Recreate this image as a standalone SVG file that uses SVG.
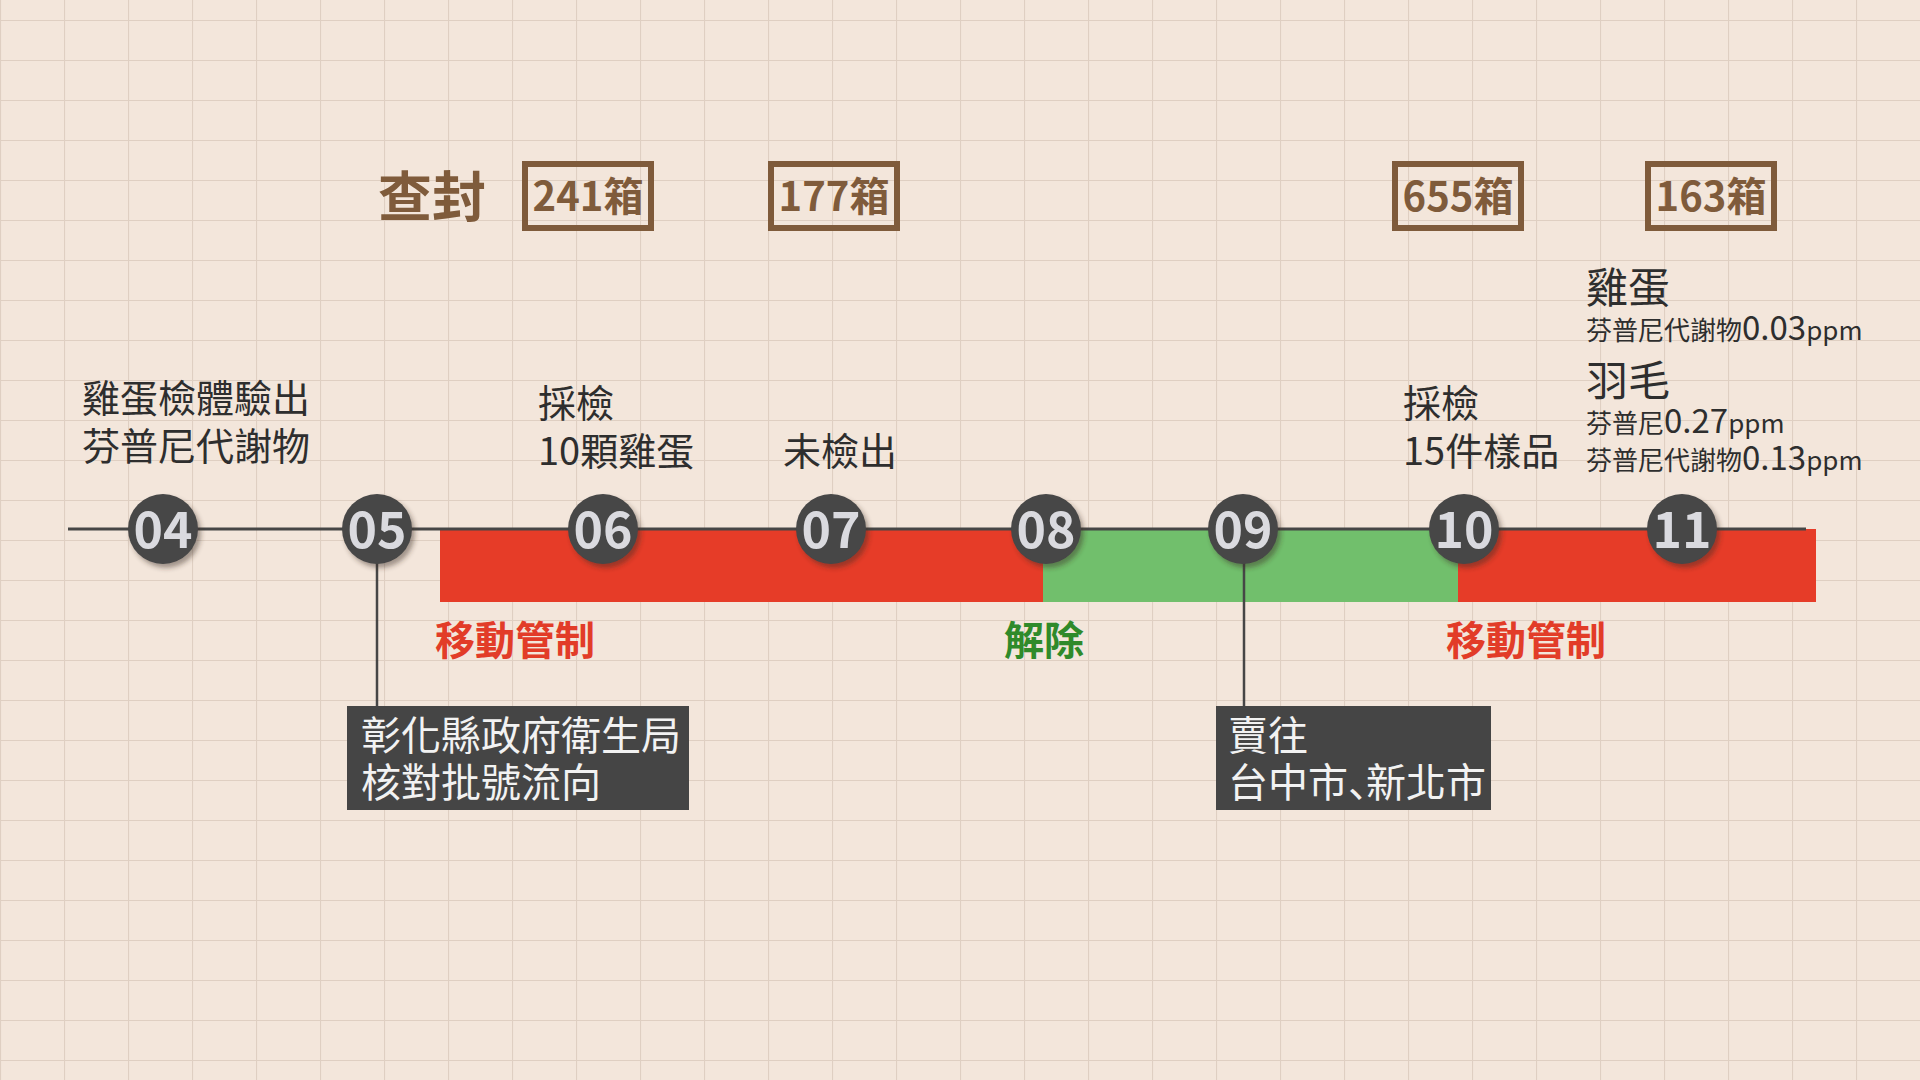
<svg xmlns="http://www.w3.org/2000/svg" width="1920" height="1080" viewBox="0 0 1920 1080">
<defs>
<pattern id="grid" width="64" height="40" x="0" y="20" patternUnits="userSpaceOnUse">
<path d="M0 0.5H64M0.5 0V40" stroke="#dfcfc2" stroke-width="1.2" fill="none"/>
</pattern>
<filter id="shadow" x="-30%" y="-30%" width="170%" height="170%">
<feDropShadow dx="3" dy="4" stdDeviation="2.5" flood-color="#3a2a20" flood-opacity="0.45"/>
</filter>
</defs>
<style>
text{font-family:"Noto Sans CJK TC","Noto Sans CJK SC",sans-serif}
.num{font-size:50px;font-weight:700;fill:#dadadf;text-anchor:middle}
.dot{fill:#464646;filter:url(#shadow)}
.lbl{font-size:38px;fill:#2e2e2e}
.box{fill:none;stroke:#7f5b3b;stroke-width:6}
.boxt{font-size:40px;font-weight:700;fill:#7f5b3b;text-anchor:middle}
.note{fill:#454545}
.notet{font-size:40px;fill:#f2f2f2}
.red{font-size:40px;font-weight:700;fill:#e23c28}
.grn{font-size:40px;font-weight:700;fill:#2f8a2a}
.s{font-size:26px}
.b{font-size:33px}
.h{font-size:42px}
.jp{font-family:"Noto Sans CJK JP",sans-serif}
</style>
<rect width="1920" height="1080" fill="#f3e6db"/>
<rect width="1920" height="1080" fill="url(#grid)"/>

<g id="bands">
<rect x="440" y="529" width="603" height="73" fill="#e63c28"/>
<rect x="1043" y="529" width="415" height="73" fill="#71bf6c"/>
<rect x="1458" y="529" width="358" height="73" fill="#e63c28"/>
</g>

<g id="connectors" stroke="#464646" fill="none">
<line x1="68" y1="529" x2="1806" y2="529" stroke-width="3"/>
<line x1="377" y1="540" x2="377" y2="706" stroke-width="2.5"/>
<line x1="1244" y1="540" x2="1244" y2="706" stroke-width="2.5"/>
</g>

<g id="seal-title">
<text x="378" y="217" style="font-size:54px;font-weight:700;fill:#7f5b3b">查封</text>
</g>
<g id="seal-241"><rect class="box" x="525" y="164" width="126" height="64"/><text class="boxt" x="588" y="211">241箱</text></g>
<g id="seal-177"><rect class="box" x="771" y="164" width="126" height="64"/><text class="boxt" x="834" y="211">177箱</text></g>
<g id="seal-655"><rect class="box" x="1395" y="164" width="126" height="64"/><text class="boxt" x="1458" y="211">655箱</text></g>
<g id="seal-163"><rect class="box" x="1648" y="164" width="126" height="64"/><text class="boxt" x="1711" y="211">163箱</text></g>

<g id="label-04"><text class="lbl" x="82" y="412">雞蛋檢體驗出</text><text class="lbl" x="82" y="460">芬普尼代謝物</text></g>
<g id="label-06"><text class="lbl" x="538" y="417">採檢</text><text class="lbl" x="538" y="465">10顆雞蛋</text></g>
<g id="label-07"><text class="lbl" x="783" y="465">未檢出</text></g>
<g id="label-10"><text class="lbl" x="1403" y="417">採檢</text><text class="lbl" x="1403" y="465">15件樣品</text></g>
<g id="label-11" fill="#2e2e2e">
<text class="h" x="1586" y="303">雞蛋</text>
<text x="1586" y="340"><tspan class="s">芬普尼代謝物</tspan><tspan class="b">0.03</tspan><tspan class="s">ppm</tspan></text>
<text class="h" x="1586" y="396">羽毛</text>
<text x="1586" y="433"><tspan class="s">芬普尼</tspan><tspan class="b">0.27</tspan><tspan class="s">ppm</tspan></text>
<text x="1586" y="470"><tspan class="s">芬普尼代謝物</tspan><tspan class="b">0.13</tspan><tspan class="s">ppm</tspan></text>
</g>

<g id="band-label-1"><text class="red" x="435" y="655">移動管制</text></g>
<g id="band-label-2"><text class="grn" x="1004" y="655">解除</text></g>
<g id="band-label-3"><text class="red" x="1446" y="655">移動管制</text></g>

<g id="node-04"><circle class="dot" cx="163" cy="529" r="35"/><text class="num" x="163" y="548">04</text></g>
<g id="node-05"><circle class="dot" cx="377" cy="529" r="35"/><text class="num" x="377" y="548">05</text></g>
<g id="node-06"><circle class="dot" cx="603" cy="529" r="35"/><text class="num" x="603" y="548">06</text></g>
<g id="node-07"><circle class="dot" cx="831" cy="529" r="35"/><text class="num" x="831" y="548">07</text></g>
<g id="node-08"><circle class="dot" cx="1046" cy="529" r="35"/><text class="num" x="1046" y="548">08</text></g>
<g id="node-09"><circle class="dot" cx="1243" cy="529" r="35"/><text class="num" x="1243" y="548">09</text></g>
<g id="node-10"><circle class="dot" cx="1464" cy="529" r="35"/><text class="num" x="1464" y="548">10</text></g>
<g id="node-11"><circle class="dot" cx="1682" cy="529" r="35"/><text class="num" x="1682" y="548">11</text></g>

<g id="note-05"><rect class="note" x="347" y="706" width="342" height="104"/><text class="notet" x="361" y="750">彰化縣政府衛生局</text><text class="notet" x="361" y="797">核對批號流向</text></g>
<g id="note-09"><rect class="note" x="1216" y="706" width="275" height="104"/><text class="notet" x="1228" y="750">賣往</text><text class="notet" x="1228" y="797">台中市<tspan class="jp">、</tspan><tspan dx="-22">新北市</tspan></text></g>
</svg>
